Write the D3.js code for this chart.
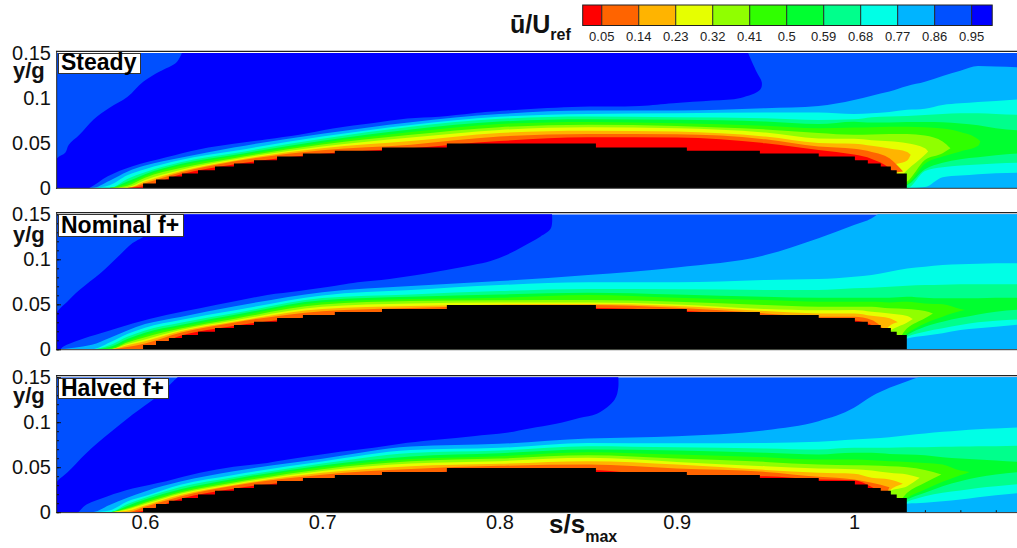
<!DOCTYPE html>
<html><head><meta charset="utf-8">
<script src="https://cdn.jsdelivr.net/npm/d3@7"></script>
<style>html,body{margin:0;padding:0;background:#fff;overflow:hidden}svg{display:block}text{font-family:"Liberation Sans",Arial,sans-serif}</style>
</head><body><svg id="c" width="1017" height="548"></svg>
<script>
// --- legend ---
const legendLevels=[0.05,0.14,0.23,0.32,0.41,0.5,0.59,0.68,0.77,0.86,0.95];
const bandColors=["#ff0000","#ff6400","#ffb400","#e6ff00","#90ff00","#30ff00","#00ff30","#00ff8c","#00ffe6","#00b4ff","#0050ff","#0000ff"];
const xTicks=[0.6,0.7,0.8,0.9,1];
const yTicks=[0,0.05,0.1,0.15];
// --- stations along s/smax at which contour heights were read (heights are y/g x 1000) ---
const stations=[.55,.57,.58,.59,.60,.62,.65,.70,.75,.80,.85,.90,.95,.98,1.0,1.01,1.02,1.03,1.04,1.05,1.06,1.07,1.08,1.095];
const wakeStart=16; // lower contour branches below start at stations[16]
// --- blade surface (stepped) ---
const bladeS=[.5989,.6062,.6135,.6209,.6299,.6395,.6502,.6615,.6745,.6891,.7071,.7337,.7703,.8544,.9057,.9469,.9801,1.0005,1.0078,1.0151,1.0208,1.0241,1.0298];
const bladeY=[.0048,.0092,.0126,.0159,.0196,.0237,.027,.0307,.0348,.0381,.0414,.0448,.0492,.0448,.0414,.0381,.0348,.0307,.027,.0237,.0196,.0159,.0159];
// --- Steady: upper contour heights ---
const steady05=[0,0,0,0,2,15,26,38,44,52,56.2,55.9,49.6,42.2,37,32.2,21.9,15,null,null,null,null,null,null];
const steady14=[0,0,0,0,5.2,17,29.2,41.8,48,57,59.9,59.6,54,46,43.5,40,33,18.2,null,null,null,null,null,null];
const steady23=[0,0,0,0,7,18.5,30.2,44,52,61,63.6,62.6,57,50,49,46.7,43.7,40,36.7,null,null,null,null,null];
const steady32=[0,0,0,1,8.9,20,31.5,46,56,64.4,67.4,66.3,61.5,55,54.5,53,51.9,49.6,44,40.4,null,null,null,null];
const steady41=[0,0,0,2.5,11.4,22,33,48.2,59,67.5,70.3,68.9,65,61,59,59.3,60,60,58.2,51.5,44,null,null,null];
const steady50=[0,0,0,4.5,13.3,24.5,34.8,50.3,62,71,73.3,71.9,69,66.2,67,67.4,68,68,67.4,66,62.2,54,51.5,null];
const steady59=[0,0,0,7,15.2,26.5,36.6,52.5,65,73.7,76.2,75.6,73.7,71,73.5,72.6,72.6,73.3,73.3,73,71.5,69.6,66.3,63.7];
const steady68=[0,0,0,10,17.4,28.5,38.5,54.6,68,76.7,79.2,78.5,77.4,75.5,76.2,78.5,79.3,80,81,82.2,83,83,82,81];
const steady77=[0,0,3,14,20.8,31,41,57,70,79,82.2,83,83.7,83.7,82.2,83,84.4,86.7,88,92.2,94,95.5,96.6,98.5];
const steady86=[0,0,8,18,24.8,33.5,44.8,60.2,73,82,85.9,85.9,88.5,91,97.7,102.5,107,113.3,118,124.4,130.3,135.5,134.8,134];
// --- Steady: lower contour heights in the wake, and where closed tongues end ---
const steadyLow05=[10,15,null,null,null,null,null,null];
const steadyLow14=[15,18.2,null,null,null,null,null,null];
const steadyLow23=[23.7,30.4,36.7,null,null,null,null,null];
const steadyLow32=[0,20,36.7,40.4,null,null,null,null];
const steadyLow41=[0,7,31,38.5,44,null,null,null];
const steadyLow50=[0,4.4,26.7,34.8,40.4,46.7,51.5,null];
const steadyLow59=[0,3.3,20.7,28,31.9,34,36.3,38.5];
const steadyLow68=[0,0,18.9,23,24.8,25.9,27,28];
const steadyLow77=[0,0,1,11.9,13.7,15.2,16.3,17];
const steadyLow86=[0,0,0,0,0,0,0,0];
const steadyTips=[null,null,null,null,1.0713,1.0544,1.0418,1.032,1.0277,1.0236];
// --- Steady: outline of the u>0.95 core ---
const steadyCoreS=[.621,.618,.608,.599,.590,.580,.571,.563,.557,.555,.550,.545,.566,.579,.593,.612,.631,.650,.669,.687,.706,.729,.748,.766,.785,.804,.841,.879,.898,.920,.936,.947,.948,.945,.940];
const steadyCoreY=[.151,.14,.129,.118,.101,.089,.076,.059,.048,.039,.032,-.002,-.002,.013,.024,.034,.043,.049,.054,.059,.066,.072,.077,.079,.083,.086,.09,.091,.094,.097,.1,.109,.117,.129,.151];
// --- Nominal f+ ---
const nominal05=[0,0,0,0,0,15,26,37,43,46,46,43,36.9,34.4,32,27,15,null,null,null,null,null,null,null];
const nominal14=[0,0,0,2.5,6.5,18.5,29.6,42.4,46,48.4,49.2,46.2,39.9,36.2,36.2,32.5,19,null,null,null,null,null,null,null];
const nominal23=[0,0,0,4.5,9,20,30.6,44.8,48,49.9,50.3,48,42.5,39.9,39.9,37.3,34.4,30,null,null,null,null,null,null];
const nominal32=[0,0,0,6,11,21.5,32,47.3,51,52.1,52.1,49.9,44.7,43.3,43.6,41.8,39.9,37,33.6,null,null,null,null,null];
const nominal41=[0,0,0,7.5,13.5,23,33.8,49.7,53.6,54.4,54.7,52.9,49.2,47.3,47.3,47.3,45.5,44.7,42.5,39.9,null,null,null,null];
const nominal50=[0,0,1,9,16,25,36,52.2,55.8,57.3,60.3,57.3,54.7,52.9,52.9,52.9,52.1,52.9,51,50,44.7,43.6,null,null];
const nominal59=[0,0,2.5,11.5,18.5,27,38,54.6,58.4,61,62.9,61,58.4,57.3,57.3,57.3,57.3,58.4,57.3,56.6,56.6,56.6,57.3,57.3];
const nominal68=[0,0,4.5,14,21,29.5,40,57,61,64.7,67,66.6,65.9,65.9,67.7,68.4,69.5,70.7,71.4,71.8,72.2,72.2,72.2,72.2];
const nominal77=[0,0,7.5,17,24,32.5,43,59.8,65.8,71.4,74.4,74.4,77,78,80.7,82.5,86.2,89.9,91.8,93.6,94.4,95,95.5,95.5];
const nominal86=[0,5,12.5,21,28,36,47.5,63.5,70.3,75.8,82.5,91,104.7,123.3,138,145.5,160,170,180,190,200,200,200,200];
const nominalLow05=[15,null,null,null,null,null,null,null];
const nominalLow14=[19,null,null,null,null,null,null,null];
const nominalLow23=[26,30,null,null,null,null,null,null];
const nominalLow32=[20,29.8,33.6,null,null,null,null,null];
const nominalLow41=[0,23.3,34.4,39.9,null,null,null,null];
const nominalLow50=[0,17.7,28.8,36.2,42.5,43.6,null,null];
const nominalLow59=[0,15.8,25,30.7,35,38.8,41.8,44.4];
const nominalLow68=[0,14,19.6,23.3,27,30,31.8,33.3];
const nominalLow77=[0,12,15,17.7,21.4,23.3,25.1,27.7];
const nominalLow86=[0,0,0,0,0,0,0,0];
const nominalTips=[null,null,null,null,1.0626,1.0445,1.0332,1.0247,1.0183,1.017];
const nominalCoreS=[.617,.599,.593,.584,.575,.563,.556,.550,.545,.551,.554,.563,.575,.593,.612,.631,.650,.669,.687,.710,.720,.738,.757,.770,.785,.795,.804,.813,.823,.829,.8296];
const nominalCoreY=[.151,.1248,.118,.1014,.0848,.0659,.0526,.04,-.002,-.002,.003,.0103,.0177,.0288,.0381,.0455,.053,.0603,.0647,.0714,.0744,.0781,.0836,.0881,.0936,.0981,.1048,.114,.1251,.1344,.151];
// --- Halved f+ ---
const halved05=[0,0,0,0,2,15,26,37,43,47,47,40,40,36.3,35.5,28,15,null,null,null,null,null,null,null];
const halved14=[0,0,0,0,6,17.5,29.3,41.7,48,51.5,53,48.6,44.8,39.3,36.3,32.6,27.8,null,null,null,null,null,null,null];
const halved23=[0,0,0,1.5,7.5,19,30.3,43.7,51,53.7,56.7,53,47,43.7,42.6,38.2,36.3,31.5,null,null,null,null,null,null];
const halved32=[0,0,0,3,9,20.5,31.7,45.8,54,56.7,60.4,55.9,51.1,48.5,47.8,46.3,43.7,41.9,38.2,null,null,null,null,null];
const halved41=[0,0,0,4,10.5,22,33,47.8,56.5,59.6,63.3,59.6,55.9,53,52.2,51.9,51.1,50,47,41.9,null,null,null,null];
const halved50=[0,0,0,5,12,23.5,35,49.9,59,62.2,66.7,64,61.1,58.5,58.5,57.8,56.7,55.9,54.8,53,46.3,44.8,null,null];
const halved59=[0,0,0,7,14,25.5,37,52,62,65.6,69.6,68.5,66,64.1,66,66,64.8,64.1,63.3,61.1,59.6,58.5,57.4,55.6];
const halved68=[0,0,0,9,16,28,38.8,54,65.8,68.5,73.4,72.2,70.8,69.6,71.5,71.5,71.5,72.2,72.2,72.6,73,73.4,73.4,74.1];
const halved77=[0,0,2,12,18,30.5,41.4,56.3,69,71.5,77,76.7,77,78.2,80.8,81.9,83.3,85.6,87.4,89.3,90.8,92.2,93,94.5];
const halved86=[0,0,8,16,23,34,45.4,59.4,73,76,81.9,84.5,91.1,101.1,116,128.9,138.2,145.6,153,165,165,165,165,165];
const halvedLow05=[15,null,null,null,null,null,null,null];
const halvedLow14=[27.8,null,null,null,null,null,null,null];
const halvedLow23=[24.1,31.5,null,null,null,null,null,null];
const halvedLow32=[23.3,28.9,38.2,null,null,null,null,null];
const halvedLow41=[0,21.5,32.6,41.9,null,null,null,null];
const halvedLow50=[0,16,25.2,33.7,41.1,44.8,null,null];
const halvedLow59=[0,14,21.5,28.9,34.5,38.9,41.9,44.8];
const halvedLow68=[0,11.5,17.8,21.5,24,27,28.9,31.5];
const halvedLow77=[0,9.3,10.4,12.2,14.1,16.7,18.9,21.5];
const halvedLow86=[0,0,0,0,0,0,0,0];
const halvedTips=[null,null,null,null,1.0653,1.0493,1.0371,1.0276,1.02,1.02];
const halvedCoreS=[.619,.616,.607,.593,.580,.567,.556,.550,.545,.5605,.567,.579,.593,.612,.631,.650,.669,.687,.71,.729,.748,.766,.785,.804,.817,.832,.845,.855,.865,.867,.867];
const halvedCoreY=[.151,.1456,.1289,.1085,.088,.0659,.0437,.0326,-.002,-.002,.0085,.0178,.0263,.0345,.0437,.0504,.0548,.0604,.0671,.0715,.0771,.0808,.0845,.0882,.093,.0982,.1048,.1093,.1252,.1382,.151];

const panels=[
 {name:"Steady",top:52.9,bottom:187.9,box:[58,53,82,20],labelY:70,yg:78,ticks:false,tips:steadyTips,
  tops:[steady86,steady77,steady68,steady59,steady50,steady41,steady32,steady23,steady14,steady05],
  lows:[steadyLow86,steadyLow77,steadyLow68,steadyLow59,steadyLow50,steadyLow41,steadyLow32,steadyLow23,steadyLow14,steadyLow05],coreS:steadyCoreS,coreY:steadyCoreY},
 {name:"Nominal f+",top:214.3,bottom:349.3,box:[58,214,125,22],labelY:233,yg:242,ticks:true,tips:nominalTips,
  tops:[nominal86,nominal77,nominal68,nominal59,nominal50,nominal41,nominal32,nominal23,nominal14,nominal05],
  lows:[nominalLow86,nominalLow77,nominalLow68,nominalLow59,nominalLow50,nominalLow41,nominalLow32,nominalLow23,nominalLow14,nominalLow05],coreS:nominalCoreS,coreY:nominalCoreY},
 {name:"Halved f+",top:377.2,bottom:512.2,box:[58,378,110,20],labelY:396,yg:403,ticks:true,xAxis:true,tips:halvedTips,
  tops:[halved86,halved77,halved68,halved59,halved50,halved41,halved32,halved23,halved14,halved05],
  lows:[halvedLow86,halvedLow77,halvedLow68,halvedLow59,halvedLow50,halvedLow41,halvedLow32,halvedLow23,halvedLow14,halvedLow05],coreS:halvedCoreS,coreY:halvedCoreY}
];

const svg=d3.select("#c");
const x=d3.scaleLinear().domain([0.6,1]).range([145,854]);
const plotL=x(0.55)+0.6, plotR=1017;

panels.forEach((p,pi)=>{
  const y=d3.scaleLinear().domain([0,0.15]).range([p.bottom,p.top]);
  const cid="clip"+pi;
  svg.append("clipPath").attr("id",cid).append("rect").attr("x",plotL).attr("y",p.top).attr("width",plotR-plotL).attr("height",p.bottom-p.top);
  const g=svg.append("g").attr("clip-path",`url(#${cid})`);
  g.append("rect").attr("x",plotL).attr("y",p.top).attr("width",plotR-plotL).attr("height",p.bottom-p.top).attr("fill",bandColors[10]);
  const core=d3.range(p.coreS.length).map(i=>[x(p.coreS[i]),y(p.coreY[i])]);
  g.append("path").attr("d",d3.line().curve(d3.curveCatmullRom.alpha(0.5))(core)+"Z").attr("fill",bandColors[11]);
  p.tops.forEach((top,k)=>{
    const low=p.lows[k];
    const rows=stations.map((s,i)=>({s,u:top[i],l:i<wakeStart?0:low[i-wakeStart]}))
      .filter(d=>d.u!=null&&d.l!=null);
    if(p.tips[k]!=null) rows[rows.length-1].s=p.tips[k];
    const area=d3.area().curve(d3.curveMonotoneX)
      .x(d=>x(d.s)).y0(d=>y(d.l/1000)).y1(d=>y(d.u/1000));
    g.append("path").attr("d",area(rows)).attr("fill",bandColors[9-k]);
  });
  const blade=bladeS.map((s,i)=>({s,v:bladeY[i]}));
  g.append("path").attr("d",d3.area().curve(d3.curveStepAfter).x(d=>x(d.s)).y0(p.bottom+1).y1(d=>y(d.v))(blade)).attr("fill","#000");

  // frame
  svg.append("line").attr("x1",plotL-1).attr("x2",plotR).attr("y1",p.top-1.6).attr("y2",p.top-1.6).attr("stroke","#222").attr("stroke-width",1.2);
  svg.append("line").attr("x1",plotL-1).attr("x2",plotR).attr("y1",p.bottom+.4).attr("y2",p.bottom+.4).attr("stroke","#333").attr("stroke-width",1);
  svg.append("line").attr("x1",plotL-.3).attr("x2",plotL-.3).attr("y1",p.top-2).attr("y2",p.bottom+1).attr("stroke","#222").attr("stroke-width",1);

  // y axis labels
  const ay=svg.append("g").attr("transform",`translate(${plotL-6},0)`)
    .call(d3.axisLeft(y).tickValues(yTicks).tickSize(0).tickPadding(0).tickFormat(d=>d===0?"0":String(d)));
  ay.select(".domain").remove();
  ay.selectAll("text").attr("font-size",20).attr("fill","#111").attr("font-family","Liberation Sans");
  svg.append("text").attr("x",13).attr("y",p.yg).attr("font-size",22).attr("font-weight","bold").attr("fill","#111").text("y/g");

  if(p.ticks){
    const minor=svg.append("g").attr("transform",`translate(${plotL},0)`)
      .call(d3.axisRight(y).ticks(15).tickSize(2).tickFormat(""));
    minor.select(".domain").remove(); minor.selectAll("line").attr("stroke","#111");
    const major=svg.append("g").attr("transform",`translate(${plotL},0)`)
      .call(d3.axisRight(y).tickValues(yTicks).tickSize(4).tickFormat(""));
    major.select(".domain").remove(); major.selectAll("line").attr("stroke","#111");
  }
  if(p.xAxis){
    const minorX=svg.append("g").attr("transform",`translate(0,${p.bottom})`)
      .call(d3.axisTop(x).tickValues(d3.range(1.04,1.09,0.02)).tickSize(2).tickFormat(""));
    minorX.select(".domain").remove(); minorX.selectAll("line").attr("stroke","#111");
    const ax=svg.append("g").attr("transform",`translate(0,${p.bottom})`)
      .call(d3.axisBottom(x).tickValues(xTicks).tickSize(0).tickPadding(3).tickFormat(d=>String(d)));
    ax.select(".domain").remove();
    ax.selectAll("text").attr("font-size",20).attr("fill","#111").attr("font-family","Liberation Sans");
  }
  // panel tag
  svg.append("rect").attr("x",p.box[0]+.5).attr("y",p.box[1]+.5).attr("width",p.box[2]).attr("height",p.box[3]).attr("fill","#fff").attr("stroke","#333");
  svg.append("text").attr("x",p.box[0]+3).attr("y",p.labelY).attr("font-size",23).attr("font-weight","bold").attr("fill","#000").text(p.name);
});

// x title
const xt=svg.append("text").attr("x",549).attr("y",533).attr("font-weight","bold").attr("fill","#111");
xt.append("tspan").attr("font-size",26).text("s/s");
xt.append("tspan").attr("font-size",16).attr("dy",9).text("max");

// legend
const lx=d3.scaleLinear().domain([0,1]).range([581.2,992.2]);
const edges=[0,...legendLevels,1];
const lg=svg.append("g");
lg.selectAll("rect.s").data(bandColors).join("rect").attr("class","s")
  .attr("x",(d,i)=>lx(edges[i])+(i==0?1.5:0)).attr("width",(d,i)=>lx(edges[i+1])-lx(edges[i])-(i==0?1.5:0))
  .attr("y",5).attr("height",20.5).attr("fill",d=>d);
lg.selectAll("line.t").data(legendLevels).join("line").attr("class","t")
  .attr("x1",d=>lx(d)).attr("x2",d=>lx(d)).attr("y1",5).attr("y2",25.5).attr("stroke","#222");
lg.append("rect").attr("x",lx(0)+1.5).attr("y",5).attr("width",lx(1)-lx(0)-1.5).attr("height",20.5).attr("fill","none").attr("stroke","#222");
lg.selectAll("text").data(legendLevels).join("text").attr("x",d=>lx(d)).attr("y",41).attr("text-anchor","middle")
  .attr("font-size",13).attr("fill","#222").text(d=>String(d));
const lt=svg.append("text").attr("x",510).attr("y",33).attr("font-weight","bold").attr("fill","#111");
lt.append("tspan").attr("font-size",25).text("ū/U");
lt.append("tspan").attr("font-size",16).attr("dy",7).text("ref");
</script></body></html>
